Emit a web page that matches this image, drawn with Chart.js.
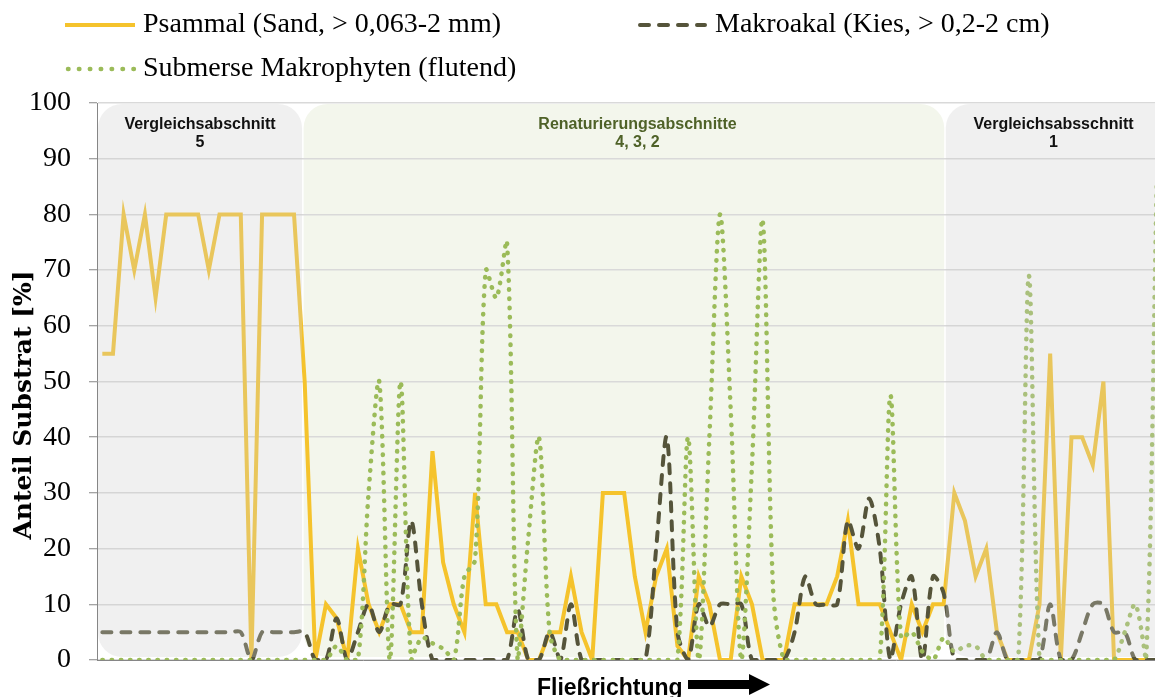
<!DOCTYPE html>
<html>
<head>
<meta charset="utf-8">
<script src="https://cdn.jsdelivr.net/npm/chart.js@4"></script>
<style>
  html, body { margin: 0; padding: 0; background: #fff; overflow: hidden; }
  canvas { display: block; }
</style>
</head>
<body>
<canvas id="substrat" width="1162" height="697"></canvas>
<script>
// Probestellen entlang der Fliessstrecke
const categories = Array.from({ length: 100 }, (_, i) => String(i + 1));

const psammal = [
  55, 55, 80, 70, 80, 65, 80, 80, 80, 80,
  70, 80, 80, 80, 0, 80, 80, 80, 80, 50,
  0, 10, 7.5, 0, 20, 10, 5, 10, 10, 5,
  5, 37.5, 17.5, 10, 5, 30, 10, 10, 5, 5,
  0, 0, 5, 5, 15, 5, 0, 30, 30, 30,
  15, 5, 15, 20, 2.5, 0, 15, 10, 0, 0,
  15, 10, 0, 0, 0, 10, 10, 10, 10, 15,
  25, 10, 10, 10, 5, 0, 10, 5, 10, 10,
  30, 25, 15, 20, 5, 0, 0, 0, 10, 55,
  0, 40, 40, 35, 50, 0, 0, 0, 0, 0
];

const makroakal = [
  5, 5, 5, 5, 5, 5, 5, 5, 5, 5,
  5, 5, 5, 5, 0, 5, 5, 5, 5, 5,
  0, 0, 7.5, 0, 5, 10, 5, 10, 10, 25,
  10, 0, 0, 0, 0, 0, 0, 0, 0, 9,
  0, 0, 5, 0, 10, 0, 0, 0, 0, 0,
  0, 0, 20, 40, 5, 0, 10, 6, 10, 10,
  10, 0, 0, 0, 0, 5, 15, 10, 10, 10,
  25, 20, 29, 20, 0, 10, 15, 0, 15, 12,
  0, 0, 0, 0, 5, 0, 0, 0, 0, 10,
  0, 0, 5, 10, 10, 5, 5, 0, 0, 0
];

const makrophyten = [
  0, 0, 0, 0, 0, 0, 0, 0, 0, 0,
  0, 0, 0, 0, 0, 0, 0, 0, 0, 0,
  0, 0, 2.5, 0, 0, 30, 50, 0, 50, 0,
  4, 3, 2, 0, 15, 18, 70, 65, 75, 0,
  22, 40, 5, 0, 0, 0, 0, 0, 0, 0,
  0, 0, 0, 0, 0, 40, 0, 40, 80, 45,
  0, 35, 79, 12, 0, 0, 0, 0, 0, 0,
  0, 0, 0, 0, 47.5, 4, 5, 1.5, 0, 4,
  1.5, 2.5, 2.5, 0, 0, 0, 0, 69, 0, 0,
  0, 0, 0, 0, 0, 0, 5, 10, 0, 85
];

const yTicks = [0, 10, 20, 30, 40, 50, 60, 70, 80, 90, 100];

const seriesNames = [
  "Psammal (Sand, > 0,063-2 mm)",
  "Makroakal (Kies, > 0,2-2 cm)",
  "Submerse Makrophyten (flutend)"
];

const sections = [
  ["Vergleichsabschnitt", "5"],
  ["Renaturierungsabschnitte", "4, 3, 2"],
  ["Vergleichsabsschnitt", "1"]
];

const GOLD = "#F5C32C";
const OLIVE = "#55543A";
const GREEN = "#9BBB59";

function roundBox(ctx, x0, y0, x1, y1, r) {
  ctx.beginPath();
  ctx.moveTo(x0 + r, y0);
  ctx.arcTo(x1, y0, x1, y1, r);
  ctx.arcTo(x1, y1, x0, y1, r);
  ctx.arcTo(x0, y1, x0, y0, r);
  ctx.arcTo(x0, y0, x1, y0, r);
  ctx.closePath();
}

function sectionBoxes(chart) {
  const { chartArea: a, scales: { x, y } } = chart;
  const top = y.getPixelForValue(100) + 1;
  const bottom = y.getPixelForValue(0) - 3;
  return [
    [a.left + 1, top, x.getPixelForValue(18.75), bottom],
    [x.getPixelForValue(18.9), top, x.getPixelForValue(79.05), bottom],
    [x.getPixelForValue(79.2), top, a.right + 30, bottom]
  ];
}

const decor = {
  id: "decor",
  beforeDraw(chart) {
    const ctx = chart.ctx;
    const b = sectionBoxes(chart)[1];
    ctx.save();
    ctx.fillStyle = "#F3F6EC";
    roundBox(ctx, b[0], b[1], b[2], b[3], 24);
    ctx.fill();
    ctx.restore();
  },
  afterDatasetsDraw(chart) {
    const ctx = chart.ctx;
    const boxes = sectionBoxes(chart);
    ctx.save();
    ctx.fillStyle = "rgba(205,205,205,0.3)";
    [boxes[0], boxes[2]].forEach((b) => {
      roundBox(ctx, b[0], b[1], b[2], b[3], 24);
      ctx.fill();
    });
    ctx.restore();
  },
  afterDraw(chart) {
    const ctx = chart.ctx;
    const boxes = sectionBoxes(chart);
    ctx.save();

    // Abschnittsnamen
    ctx.font = "bold 16px 'Liberation Sans', Arial, sans-serif";
    ctx.textAlign = "center";
    ctx.textBaseline = "middle";
    const centers = [(boxes[0][0] + boxes[0][2]) / 2, 637.5, 1053.5];
    sections.forEach((s, i) => {
      ctx.fillStyle = i === 1 ? "#4F6228" : "#111";
      ctx.fillText(s[0], centers[i], 125);
      ctx.fillText(s[1], centers[i], 143);
    });

    // Legende
    const items = [
      { x: 65, y: 25, color: GOLD, dash: [], len: 70, cap: "butt", w: 4 },
      { x: 640, y: 25, color: OLIVE, dash: [9, 10], len: 65, cap: "round", w: 4 },
      { x: 68, y: 69, color: GREEN, dash: [0.5, 10.4], len: 66, cap: "round", w: 4.5 }
    ];
    ctx.font = "28px 'Liberation Serif', 'Times New Roman', serif";
    ctx.textAlign = "left";
    items.forEach((it, i) => {
      ctx.strokeStyle = it.color;
      ctx.lineWidth = it.w;
      ctx.lineCap = it.cap;
      ctx.setLineDash(it.dash);
      ctx.beginPath();
      ctx.moveTo(it.x, it.y);
      ctx.lineTo(it.x + it.len, it.y);
      ctx.stroke();
      ctx.fillStyle = "#000";
      ctx.fillText(seriesNames[i], i === 1 ? 715 : 143, it.y);
    });
    ctx.setLineDash([]);

    // Achsentitel
    ctx.save();
    ctx.translate(24, 405);
    ctx.rotate(-Math.PI / 2);
    ctx.font = "bold 25px 'DejaVu Serif', serif";
    ctx.textAlign = "center";
    ctx.fillStyle = "#000";
    ctx.fillText("Anteil Substrat [%]", 0, 0);
    ctx.restore();

    // Fliessrichtung mit Pfeil
    ctx.font = "bold 23px 'Liberation Sans', Arial, sans-serif";
    ctx.textAlign = "left";
    ctx.textBaseline = "alphabetic";
    ctx.fillStyle = "#000";
    ctx.fillText("Fließrichtung", 537, 695);
    ctx.beginPath();
    ctx.moveTo(688, 680);
    ctx.lineTo(749, 680);
    ctx.lineTo(749, 674);
    ctx.lineTo(770, 684.5);
    ctx.lineTo(749, 695);
    ctx.lineTo(749, 689);
    ctx.lineTo(688, 689);
    ctx.closePath();
    ctx.fill();

    ctx.restore();
  }
};

new Chart(document.getElementById("substrat"), {
  type: "line",
  data: {
    labels: categories,
    datasets: [
      {
        label: seriesNames[0],
        data: psammal,
        borderColor: GOLD,
        borderWidth: 4,
        tension: 0,
        pointRadius: 0,
        order: 2
      },
      {
        label: seriesNames[1],
        data: makroakal,
        borderColor: OLIVE,
        borderWidth: 4,
        borderDash: [9, 10],
        borderCapStyle: "round",
        tension: 0.3,
        pointRadius: 0,
        order: 1
      },
      {
        label: seriesNames[2],
        data: makrophyten,
        borderColor: GREEN,
        borderWidth: 4.5,
        borderDash: [0.5, 8.7],
        borderCapStyle: "round",
        tension: 0.3,
        pointRadius: 0,
        order: 0
      }
    ]
  },
  options: {
    responsive: false,
    animation: false,
    devicePixelRatio: 1,
    layout: { padding: { left: 0, right: 0, top: 103, bottom: 37 } },
    plugins: {
      legend: { display: false },
      tooltip: { enabled: false }
    },
    scales: {
      x: {
        offset: true,
        grid: { display: false },
        ticks: { display: false },
        border: { display: true, color: "#868686", width: 1 },
        afterFit: (scale) => { scale.height = 0; }
      },
      y: {
        min: 0,
        max: 100,
        afterFit: (scale) => { scale.width = 97; },
        afterBuildTicks: (scale) => { scale.ticks = yTicks.map((v) => ({ value: v })); },
        ticks: {
          padding: 18,
          color: "#000",
          font: { family: "'Liberation Serif', 'Times New Roman', serif", size: 28 }
        },
        grid: {
          color: "#D9D9D9",
          lineWidth: 1.5,
          tickColor: "#868686",
          tickWidth: 1,
          tickLength: 8
        },
        border: { color: "#868686", width: 1 }
      }
    }
  },
  plugins: [decor]
});
</script>
</body>
</html>
